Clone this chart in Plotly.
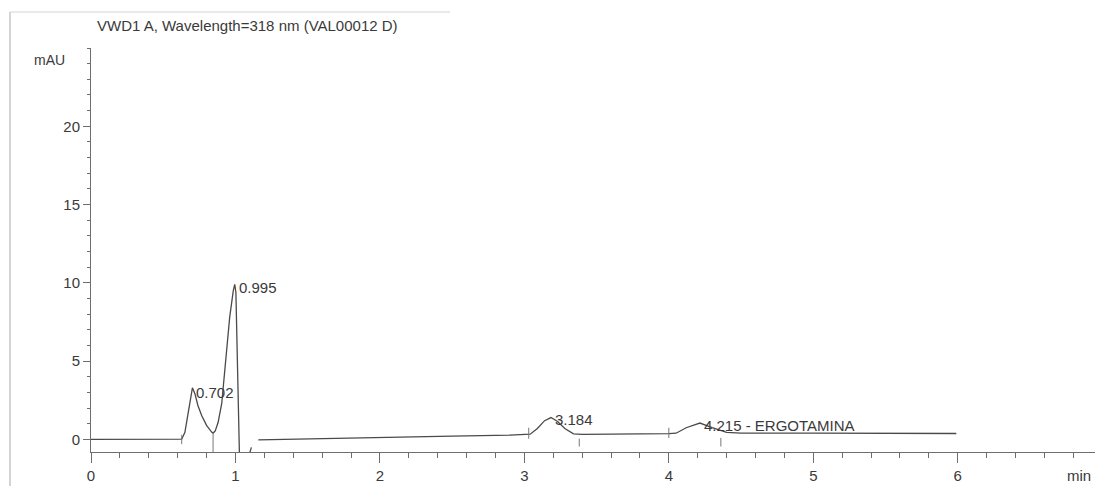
import plotly.graph_objects as go

# Detector trace (VWD1 A, 318 nm): retention time in min, absorbance in mAU.
# None marks the short stretch where the signal dips below the plotted range.
time_min = [
    0.00, 0.30, 0.60, 0.628, 0.65, 0.673, 0.702, 0.72, 0.74, 0.766, 0.80,
    0.835, 0.845, 0.86, 0.88, 0.905, 0.93, 0.96, 0.985, 0.995, 1.003,
    1.012, 1.022, 1.03, None, 1.095, 1.11, None, 1.158, 1.50, 2.00, 2.50,
    2.90, 3.04, 3.09, 3.14, 3.184, 3.23, 3.28, 3.34, 3.40, 3.60, 4.00, 4.05,
    4.12, 4.215, 4.30, 4.40, 4.50, 5.00, 5.50, 5.99,
]
signal_mau = [
    0.00, 0.00, 0.00, 0.02, 0.46, 1.85, 3.30, 2.90, 2.17, 1.53, 0.90,
    0.47, 0.41, 0.55, 1.10, 2.30, 5.00, 7.80, 9.50, 9.90, 9.40,
    5.00, 0.00, -2.00, None, -1.00, -0.50, None, -0.02, 0.05, 0.12, 0.22,
    0.28, 0.34, 0.70, 1.20, 1.40, 1.15, 0.70, 0.36, 0.33, 0.33, 0.37, 0.40,
    0.75, 1.05, 0.75, 0.45, 0.40, 0.40, 0.40, 0.38,
]

# Integration event marks (start/end drop lines) as short vertical segments
event_t = [0.628, 0.628, None, 0.845, 0.845, None, 3.03, 3.03, None,
           3.38, 3.38, None, 4.00, 4.00, None, 4.36, 4.36]
event_y = [-0.30, 0.30, None, 0.41, -0.80, None, 0.05, 0.75, None,
           0.05, -0.45, None, 0.10, 0.75, None, 0.10, -0.45]

# Peak labels: retention time, apex height, label text
peak_rt = [0.702, 0.995, 3.184, 4.215]
peak_h = [3.30, 9.90, 1.40, 1.05]
peak_text = ["0.702", "0.995", "3.184", "4.215 - ERGOTAMINA"]
label_dy = [-0.30, -0.20, -0.10, -0.15]

x_ticks = [0, 1, 2, 3, 4, 5, 6]
y_ticks = [0, 5, 10, 15, 20]

title_text = "VWD1 A, Wavelength=318 nm (VAL00012 D)"
y_unit = "mAU"
x_unit = "min"

ink = "#4a4a4a"
axis_col = "#6e6e6e"
text_col = "#3a3a3a"
font_family = "Liberation Sans, Arial, sans-serif"

# plot-area geometry in pixels, used to place the page-level texts
W, H = 1095, 486
ML, MR, MT, MB = 91, 0, 48, 34
PW, PH = W - ML - MR, H - MT - MB


def px_to_paper(px, py):
    return (px - ML) / PW, (H - MB - py) / PH


fig = go.Figure()

fig.add_trace(go.Scatter(
    x=time_min, y=signal_mau, mode="lines",
    line=dict(color=ink, width=1.3), connectgaps=False,
    hoverinfo="skip", showlegend=False,
))

fig.add_trace(go.Scatter(
    x=event_t, y=event_y, mode="lines",
    line=dict(color="#777777", width=1), connectgaps=False,
    hoverinfo="skip", showlegend=False,
))

for rt, h, txt, dy in zip(peak_rt, peak_h, peak_text, label_dy):
    fig.add_annotation(
        x=rt, y=h + dy, xref="x", yref="y", text=txt, showarrow=False,
        xanchor="left", yanchor="middle", xshift=2,
        font=dict(family=font_family, size=15, color=text_col),
    )

# Chart heading and axis unit labels
tx, ty = px_to_paper(95, 26)
fig.add_annotation(
    x=tx, y=ty, xref="paper", yref="paper", text=title_text, showarrow=False,
    xanchor="left", yanchor="middle",
    font=dict(family=font_family, size=15, color=text_col),
)
ux, uy = px_to_paper(49, 60)
fig.add_annotation(
    x=ux, y=uy, xref="paper", yref="paper", text=y_unit, showarrow=False,
    xanchor="center", yanchor="middle",
    font=dict(family=font_family, size=14, color=text_col),
)
mx, my = px_to_paper(1093, 475)
fig.add_annotation(
    x=mx, y=my, xref="paper", yref="paper", text=x_unit, showarrow=False,
    xanchor="right", yanchor="middle",
    font=dict(family=font_family, size=15, color=text_col),
)

fig.update_xaxes(
    range=[0, 6.95], tickvals=x_ticks, ticktext=[str(v) for v in x_ticks],
    showgrid=False, zeroline=False, showline=True, linecolor=axis_col,
    linewidth=1, ticks="outside", ticklen=10, tickcolor=axis_col,
    minor=dict(dtick=0.2, ticks="outside", ticklen=5, tickcolor=axis_col),
    tickfont=dict(family=font_family, size=15, color=text_col),
)
fig.update_yaxes(
    range=[-0.8, 25], tickvals=y_ticks, ticktext=[str(v) for v in y_ticks],
    showgrid=False, zeroline=False, showline=True, linecolor=axis_col,
    linewidth=1, ticks="outside", ticklen=7, tickcolor=axis_col,
    minor=dict(dtick=1, ticks="outside", ticklen=3, tickcolor=axis_col),
    tickfont=dict(family=font_family, size=15, color=text_col),
)

fx0, fy0 = px_to_paper(10, 486)
fx1, fy1 = px_to_paper(450, 12)
fig.update_layout(
    width=W, height=H,
    margin=dict(l=ML, r=MR, t=MT, b=MB, pad=0),
    paper_bgcolor="white", plot_bgcolor="white",
    showlegend=False,
    shapes=[
        # page frame edges
        dict(type="line", xref="paper", yref="paper", x0=fx0, x1=fx0,
             y0=fy0, y1=fy1, line=dict(color="#b8b8b8", width=1.2)),
        dict(type="line", xref="paper", yref="paper", x0=fx0, x1=fx1,
             y0=fy1, y1=fy1, line=dict(color="#d4d4d4", width=1.2)),
    ],
)

fig.write_html("out.html")
